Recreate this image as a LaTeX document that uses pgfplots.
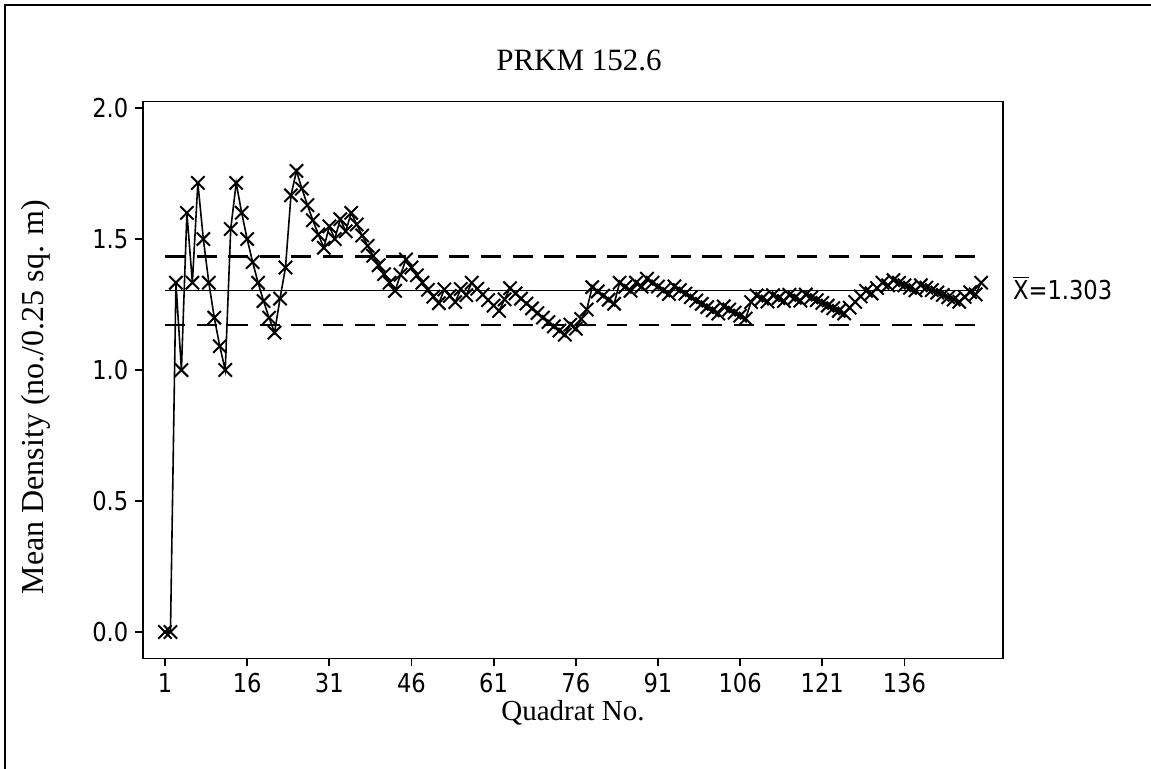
\documentclass[border=0pt]{standalone}
\usepackage{fontspec}
\setmainfont{Liberation Serif}
\newfontfamily\tickfont[FakeStretch=0.87]{DejaVu Sans}
\usepackage{pgfplots}
\usepackage{pgfplotstable}
\pgfplotsset{compat=1.18}

% running mean density after each quadrat
\pgfplotstableread{
q m
1 0
2 0
3 1.3333
4 1.0
5 1.6
6 1.3333
7 1.7143
8 1.5
9 1.3333
10 1.2
11 1.0909
12 1.0
13 1.5385
14 1.7143
15 1.6
16 1.5
17 1.4118
18 1.3333
19 1.2632
20 1.2
21 1.1429
22 1.2727
23 1.3913
24 1.6667
25 1.76
26 1.6923
27 1.6296
28 1.5714
29 1.5172
30 1.4667
31 1.5484
32 1.5
33 1.5758
34 1.5294
35 1.6
36 1.5556
37 1.5135
38 1.4737
39 1.4359
40 1.4
41 1.3659
42 1.3333
43 1.3023
44 1.3636
45 1.4222
46 1.3913
47 1.3617
48 1.3333
49 1.3061
50 1.28
51 1.2549
52 1.3077
53 1.2830
54 1.2593
55 1.3091
56 1.2857
57 1.3333
58 1.3103
59 1.2881
60 1.2667
61 1.2459
62 1.2258
63 1.2698
64 1.3125
65 1.2923
66 1.2727
67 1.2537
68 1.2353
69 1.2174
70 1.2
71 1.1831
72 1.1667
73 1.1507
74 1.1351
75 1.1733
76 1.1579
77 1.1948
78 1.2308
79 1.3165
80 1.3
81 1.2840
82 1.2683
83 1.2530
84 1.3333
85 1.3176
86 1.3023
87 1.3333
88 1.3182
89 1.3483
90 1.3333
91 1.3187
92 1.3043
93 1.2903
94 1.3191
95 1.3053
96 1.2917
97 1.2784
98 1.2653
99 1.2525
100 1.24
101 1.2277
102 1.2157
103 1.2427
104 1.2308
105 1.2190
106 1.2075
107 1.1963
108 1.2593
109 1.2844
110 1.2727
111 1.2613
112 1.2857
113 1.2743
114 1.2632
115 1.2870
116 1.2759
117 1.2650
118 1.2881
119 1.2773
120 1.2667
121 1.2562
122 1.2459
123 1.2358
124 1.2258
125 1.2160
126 1.2381
127 1.2598
128 1.2813
129 1.3023
130 1.2923
131 1.3130
132 1.3333
133 1.3233
134 1.3433
135 1.3333
136 1.3235
137 1.3139
138 1.3043
139 1.3237
140 1.3143
141 1.3050
142 1.2958
143 1.2867
144 1.2778
145 1.2690
146 1.2603
147 1.2789
148 1.2973
149 1.2886
150 1.3333
}\cummean

\begin{document}
\begin{tikzpicture}
\useasboundingbox (0,0) rectangle (575.5pt,384.5pt);
% frame round the whole graph
\draw[line width=1pt] (2.5pt,-2pt) -- (2.5pt,382pt) -- (578pt,382pt);
\begin{axis}[
  at={(71.65pt,55.25pt)}, anchor=south west,
  scale only axis, width=429.7pt, height=278.5pt,
  xmin=-2.96, xmax=153.94, ymin=-0.101, ymax=2.025,
  xtick={1,16,31,46,61,76,91,106,121,136},
  ytick={0,0.5,1,1.5,2},
  xtick pos=bottom, ytick pos=left,
  tick align=outside, major tick length=4pt,
  tick style={black, line width=0.9pt},
  axis line style={line width=0.9pt},
  /pgf/number format/assume math mode=true,
  yticklabel style={/pgf/number format/.cd, fixed, fixed zerofill, precision=1},
  xticklabel style={/pgf/number format/.cd, fixed, precision=0},
  ticklabel style={font=\tickfont\fontsize{13}{13}\selectfont},
  clip=false,
]
% overall mean and the band of +/- 10 percent about it
\addplot[black, line width=0.7pt] coordinates {(1,1.303) (150,1.303)};
\addplot[black, line width=1.1pt, dash pattern=on 10pt off 5.8pt] coordinates {(1,1.4333) (150,1.4333)};
\addplot[black, line width=1.1pt, dash pattern=on 10pt off 5.8pt] coordinates {(1,1.1727) (150,1.1727)};
\addplot[black, line width=0.8pt, mark=x, mark size=4.7pt, mark options={line width=1pt, solid}] table {\cummean};
\end{axis}
\node[font=\fontsize{15.5}{15.5}\selectfont] at (289.5pt,354.5pt) {PRKM 152.6};
\node[font=\fontsize{14.5}{14.5}\selectfont] at (286.5pt,28pt) {Quadrat No.};
\node[font=\fontsize{16}{16}\selectfont, rotate=90] at (18pt,186pt) {Mean Density (no./0.25 sq. m)};
\node[font=\tickfont\fontsize{13}{13}\selectfont, anchor=west] at (503pt,240.5pt) {$\overline{\hbox{X}}$=1.303};
\end{tikzpicture}
\end{document}
